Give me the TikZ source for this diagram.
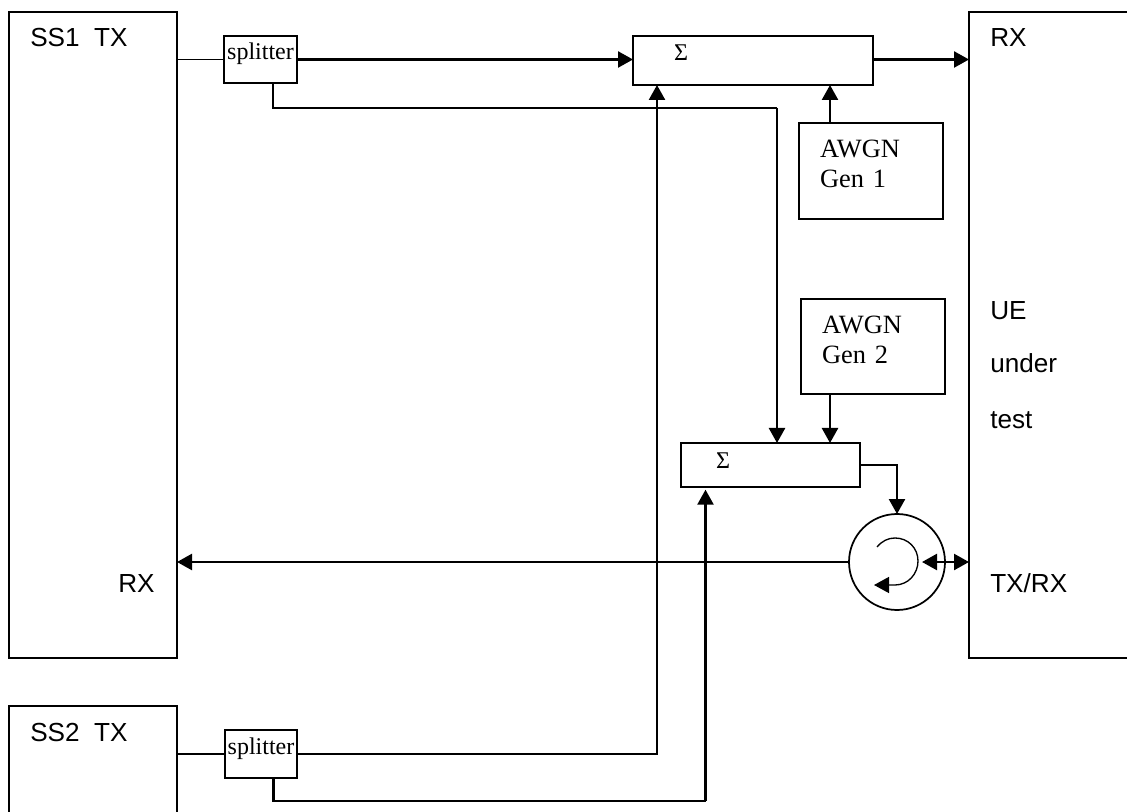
\documentclass[tikz,border=0pt]{standalone}
\usepackage{fontspec}
\setmainfont{Liberation Serif}
\newfontfamily\arialfont{Liberation Sans}
\usetikzlibrary{arrows.meta}
\begin{document}
\begin{tikzpicture}[x=0.75pt,y=-0.75pt]
      \useasboundingbox(0,0) rectangle (1127,812);
      \tikzset{B/.style = {shape=rectangle, draw, line width=1.6pt, inner sep=0pt, outer sep=0pt, text=black}}
      \tikzset{S/.style = {B, text height=10pt, text depth=10pt, font=\fontsize{18}{22}\selectfont}}
      \tikzset{G/.style = {B, align=left, inner xsep=15.75pt, text width=76.5pt, text height=14pt, text depth=33.5pt, font=\fontsize{19.8}{22.5}\selectfont}}
      \tikzset{T/.style = {anchor=base west, inner sep=0pt, text=black, font=\arialfont\fontsize{19.6}{24}\selectfont}}
      \tikzset{E/.style = {draw, line width=1.8pt, -{Triangle[length=11.25pt,width=12pt]}}}
      \tikzset{L/.style = {draw, line width=1.8pt}}
      % big boxes, the open ones run off the page
      \node[B,minimum width=126pt,minimum height=484.5pt](ss1) at (93,335) {};
      \node[B,minimum width=126pt,minimum height=93pt](ss2) at (93,768) {};
      \node[B,minimum width=128.25pt,minimum height=484.5pt](ue) at (1054.5,335) {};
      \node[S,minimum width=54.75pt,minimum height=35.25pt](sp1) at (260.5,59.5) {splitter};
      \node[S,minimum width=54pt,minimum height=36pt](sp2) at (261,754) {splitter};
      \node[B,text height=10pt,text depth=10pt,align=left,inner xsep=30.75pt,text width=118.5pt,font=\fontsize{18}{22}\selectfont,minimum height=36.75pt](sum1) at (753,60.5) {Σ};
      \node[B,text height=12.25pt,text depth=7.75pt,align=left,inner xsep=26.25pt,text width=81.75pt,font=\fontsize{18}{22}\selectfont,minimum height=33pt](sum2) at (770.5,465) {Σ};
      \node[G,minimum height=72pt](gen1) at (871,171) {AWGN\\Gen 1};
      \node[G,minimum height=71.25pt](gen2) at (873,346.5) {AWGN\\Gen 2};
      \node[circle,draw,line width=1.3pt,inner sep=0pt,outer sep=0pt,minimum size=72pt](circ) at (897,562) {};
      % texts
      \node[T](tss1) at (30,47) {SS1\ \ TX};
      \node[T](tss2) at (30,741) {SS2\ \ TX};
      \node[T](trx1) at (118,592) {RX};
      \node[T](trx2) at (990,47) {RX};
      \node[T](tue) at (990,320) {UE};
      \node[T](tunder) at (990,373) {under};
      \node[T](ttest) at (990,428) {test};
      \node[T](ttxrx) at (990,592) {TX/RX};
      \coordinate (bend1) at (777,108);
      \coordinate (bend2) at (705.5,801);
      % connectors
      \draw[L,line width=1.3pt](ss1.east |- sp1.west) to (sp1.west);
      \draw[L](ss2.east |- sp2.west) to (sp2.west);
      \draw[E](sp1.east) to (sp1.east -| sum1.west);
      \draw[E](sum1.east |- sp1.east) to (ue.west |- sp1.east);
      \draw[L]([xshift=9.4pt]sp1.south) |- (bend1);
      \draw[E](bend1) to (bend1 |- sum2.north);
      \draw[E]([xshift=-30.75pt]gen1.north) to ([xshift=147.75pt]sum1.south west);
      \draw[E]([xshift=-32.25pt]gen2.south) to ([xshift=111.75pt]sum2.north west);
      \draw[E](sp2.east) -| ([xshift=18pt]sum1.south west);
      \draw[L]([xshift=9.4pt]sp2.south) |- (bend2);
      \draw[E,shorten >=2pt](bend2) to (bend2 |- sum2.south);
      \draw[E](sum2.east) -| (circ.north);
      \draw[E](circ.west) to (circ.west -| ss1.east);
      \draw[E,{Triangle[length=11.25pt,width=12pt]}-{Triangle[length=11.25pt,width=12pt]}]([xshift=-17.25pt]circ.east) to (ue.west |- circ.east);
      % the turning arrow in the circle
      \draw[E,line width=1pt] (877,547) .. controls (882,541) and (888,538) .. (895,538) .. controls (908,538) and (918,548) .. (918,561) .. controls (918,574) and (908,585) .. (895,585) -- (874,585);
\end{tikzpicture}
\end{document}
